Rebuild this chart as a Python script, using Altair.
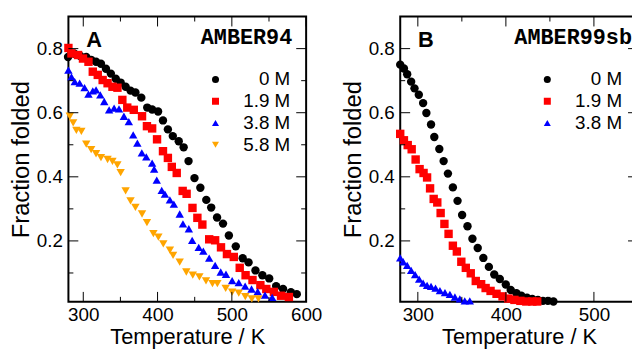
import altair as alt
import pandas as pd

FONT = "Liberation Sans"

# ---------------- Panel A : AMBER94 ----------------
a_series = ["0 M", "1.9 M", "3.8 M", "5.8 M"]
a_colors = ["#000000", "#ff0000", "#0000ff", "#ffa500"]
a_shapes = ["circle", "square", "triangle-up", "triangle-down"]

a0_T = [279.5, 288.1, 296.0, 304.0, 310.6, 317.2, 323.8, 330.5, 337.1, 343.7, 350.3, 357.0, 363.6, 370.2,
        378.1, 386.1, 392.7, 400.7, 407.3, 413.9, 420.5, 428.5, 435.1, 441.7, 449.7, 457.6, 465.6, 472.2,
        480.1, 488.1, 496.0, 505.3, 514.6, 522.5, 531.8, 541.1, 550.3, 559.6, 568.9, 579.5, 587.4]
a0_f = [0.774, 0.784, 0.777, 0.774, 0.765, 0.759, 0.753, 0.737, 0.722, 0.706, 0.694, 0.681, 0.669, 0.663,
        0.647, 0.616, 0.610, 0.604, 0.576, 0.548, 0.527, 0.511, 0.492, 0.449, 0.396, 0.366, 0.328, 0.304,
        0.273, 0.254, 0.217, 0.183, 0.146, 0.133, 0.108, 0.093, 0.083, 0.059, 0.050, 0.040, 0.034]

a1_T = [280.0, 284.1, 293.0, 299.6, 307.0, 312.8, 319.5, 326.1, 332.7, 339.3, 346.0, 352.6, 359.2, 368.0,
        379.1, 385.7, 392.7, 399.3, 407.3, 413.9, 419.2, 425.8, 433.8, 439.1, 447.0, 453.6, 460.3, 469.5,
        477.5, 485.4, 493.4, 502.6, 510.6, 518.5, 527.8, 538.4, 546.4, 556.6, 566.2, 576.8]
a1_f = [0.802, 0.785, 0.780, 0.769, 0.759, 0.728, 0.718, 0.702, 0.692, 0.681, 0.678, 0.640, 0.616, 0.609,
        0.589, 0.558, 0.551, 0.517, 0.480, 0.459, 0.431, 0.412, 0.356, 0.347, 0.303, 0.272, 0.251, 0.205,
        0.202, 0.180, 0.159, 0.150, 0.116, 0.093, 0.078, 0.062, 0.050, 0.041, 0.029, 0.025]

a2_T = [280.0, 284.1, 288.5, 295.1, 301.7, 307.0, 312.8, 317.2, 322.9, 328.2, 334.8, 341.5, 348.1, 354.7,
        361.3, 367.2, 372.8, 378.8, 384.8, 392.7, 395.4, 398.9, 405.6, 409.9, 416.6, 421.9, 429.8, 434.2,
        442.1, 446.6, 455.4, 461.6, 469.5, 477.5, 485.0, 492.1, 500.4, 509.3, 517.9, 526.5, 534.8, 544.6, 554.3]
a2_f = [0.733, 0.712, 0.697, 0.692, 0.678, 0.658, 0.668, 0.671, 0.656, 0.635, 0.609, 0.614, 0.612, 0.589,
        0.572, 0.531, 0.505, 0.475, 0.462, 0.443, 0.424, 0.390, 0.358, 0.346, 0.328, 0.315, 0.284, 0.253,
        0.238, 0.202, 0.180, 0.168, 0.146, 0.124, 0.103, 0.096, 0.076, 0.070, 0.059, 0.050, 0.042, 0.031, 0.024]

a3_T = [281.9, 286.4, 290.7, 297.4, 304.0, 310.6, 317.2, 323.8, 332.7, 339.3, 345.9, 350.3, 357.0, 363.6,
        370.2, 379.1, 385.7, 394.4, 401.1, 407.7, 416.6, 420.9, 429.8, 438.7, 447.4, 456.3, 465.2, 473.9,
        480.5, 491.7, 500.4, 509.3, 518.1, 526.9, 535.8]
a3_f = [0.589, 0.568, 0.545, 0.542, 0.502, 0.485, 0.472, 0.460, 0.454, 0.448, 0.437, 0.413, 0.356, 0.325,
        0.305, 0.284, 0.257, 0.223, 0.212, 0.191, 0.171, 0.155, 0.134, 0.103, 0.093, 0.088, 0.075, 0.067,
        0.067, 0.052, 0.040, 0.037, 0.026, 0.019, 0.019]

# ---------------- Panel B : AMBER99sb ----------------
b_series = ["0 M", "1.9 M", "3.8 M"]
b_colors = ["#000000", "#ff0000", "#0000ff"]
b_shapes = ["circle", "square", "triangle-up"]

b0_T = [280.0, 284.2, 287.9, 292.4, 296.2, 301.1, 306.0, 309.7, 315.0, 318.7, 324.4, 329.3, 334.2, 339.8,
        345.1, 350.3, 356.4, 362.0, 368.0, 374.4, 380.7, 386.8, 393.1, 399.9, 405.5, 412.0, 417.6, 424.0,
        430.0, 436.4, 442.1, 447.7, 454.0]
b0_f = [0.750, 0.738, 0.720, 0.697, 0.676, 0.656, 0.630, 0.599, 0.563, 0.524, 0.487, 0.449, 0.410, 0.367,
        0.325, 0.281, 0.246, 0.207, 0.178, 0.147, 0.119, 0.095, 0.081, 0.064, 0.047, 0.037, 0.029, 0.023,
        0.019, 0.016, 0.013, 0.013, 0.011]

b1_T = [280.0, 284.2, 288.5, 293.0, 297.5, 302.0, 306.5, 310.5, 313.9, 318.0, 322.1, 325.9, 330.2, 334.9,
        339.8, 344.3, 349.4, 354.5, 360.1, 365.8, 371.9, 377.0, 382.6, 389.4, 396.2, 402.9, 409.7, 416.5,
        423.2, 430.0, 435.6]
b1_f = [0.534, 0.514, 0.499, 0.486, 0.454, 0.424, 0.412, 0.398, 0.364, 0.331, 0.320, 0.287, 0.253, 0.222,
        0.185, 0.167, 0.135, 0.116, 0.099, 0.075, 0.065, 0.053, 0.044, 0.035, 0.027, 0.020, 0.016, 0.013,
        0.011, 0.011, 0.011]

b2_T = [280.0, 283.4, 287.9, 292.4, 296.9, 301.5, 306.0, 310.5, 315.0, 320.1, 325.1, 330.8, 336.4, 342.1,
        347.7, 353.3, 359.0]
b2_f = [0.147, 0.135, 0.124, 0.108, 0.095, 0.081, 0.068, 0.061, 0.058, 0.053, 0.045, 0.039, 0.033, 0.025,
        0.019, 0.013, 0.013]

# axis ticks
a_x_major = [300, 400, 500, 600]
a_x_minor = [350, 450, 550]
b_x_major = [300, 400, 500]
b_x_minor = [350, 450]
y_major = [0.2, 0.4, 0.6, 0.8]
y_minor = [0.1, 0.3, 0.5, 0.7]
y_domain = [0.01, 0.9]
a_x_domain = [280, 600]
b_x_domain = [280, 550]

W, H = 240, 288
MAJ, MIN = 10, 5


def build_df(series, Ts, fs):
    rows = []
    for s, T, f in zip(series, Ts, fs):
        for t, v in zip(T, f):
            rows.append({"T": t, "f": v, "series": s})
    return pd.DataFrame(rows)


def panel(df, series, colors, shapes, xdom, xmaj, xmin, letter, model, model_x):
    xs = alt.Scale(domain=xdom, nice=False, zero=False)
    ys = alt.Scale(domain=y_domain, nice=False, zero=False)
    xax = alt.Axis(values=xmaj, title="Temperature / K", labelFlush=False, format="d",
                   labelPadding=4, titlePadding=2, titleFontSize=22)
    yax = alt.Axis(values=y_major, title="Fraction folded", format=".1f",
                   labelPadding=6, titlePadding=3)
    leg = alt.Legend(title=None, orient="none", legendX=139, legendY=54, labelAlign="right",
                     labelOffset=66, labelFontSize=19, labelFont=FONT, symbolSize=50,
                     rowPadding=2, padding=0, symbolStrokeWidth=0)
    X = alt.X("T:Q", scale=xs, axis=xax)
    Y = alt.Y("f:Q", scale=ys, axis=yax)

    pts = alt.Chart(df).mark_point(filled=True, size=72, opacity=1).encode(
        x=X, y=Y,
        color=alt.Color("series:N", scale=alt.Scale(domain=series, range=colors), legend=leg),
        shape=alt.Shape("series:N", scale=alt.Scale(domain=series, range=shapes), legend=leg),
        order=alt.Order("order:Q"),
    ).transform_calculate(order="indexof(%s, datum.series)" % str(series))

    layers = []
    for vals, L in ((xmaj, MAJ), (xmin, MIN)):
        d = pd.DataFrame({"T": vals})
        layers.append(alt.Chart(d).mark_rule(color="black", strokeWidth=1).encode(
            x=X, y=alt.value(H), y2=alt.value(H - L)))
        layers.append(alt.Chart(d).mark_rule(color="black", strokeWidth=1).encode(
            x=X, y=alt.value(0), y2=alt.value(L)))
    for vals, L in ((y_major, MAJ), (y_minor, MIN)):
        d = pd.DataFrame({"f": vals})
        layers.append(alt.Chart(d).mark_rule(color="black", strokeWidth=1).encode(
            y=Y, x=alt.value(0), x2=alt.value(L)))
        layers.append(alt.Chart(d).mark_rule(color="black", strokeWidth=1).encode(
            y=Y, x=alt.value(W), x2=alt.value(W - L)))

    lab = alt.Chart(pd.DataFrame({"t": [letter]})).mark_text(
        font=FONT, fontSize=22, fontWeight="bold", align="left", baseline="alphabetic", color="black"
    ).encode(x=alt.value(18), y=alt.value(31), text="t:N")
    mod = alt.Chart(pd.DataFrame({"t": [model]})).mark_text(
        font="Courier New, Liberation Mono, monospace", fontSize=22, fontWeight="bold",
        align="right", baseline="alphabetic", color="black"
    ).encode(x=alt.value(model_x), y=alt.value(28), text="t:N")

    return alt.layer(pts, *layers, lab, mod).properties(width=W, height=H)


dfA = build_df(a_series, [a0_T, a1_T, a2_T, a3_T], [a0_f, a1_f, a2_f, a3_f])
dfB = build_df(b_series, [b0_T, b1_T, b2_T], [b0_f, b1_f, b2_f])

chartA = panel(dfA, a_series, a_colors, a_shapes, a_x_domain, a_x_major, a_x_minor, "A", "AMBER94", 226)
chartB = panel(dfB, b_series, b_colors, b_shapes, b_x_domain, b_x_major, b_x_minor, "B", "AMBER99sb", 234)

chart = alt.hconcat(chartA, chartB, spacing=95, bounds="flush").resolve_scale(
    color="independent", shape="independent", x="independent", y="independent"
).resolve_legend(color="independent", shape="independent").configure_view(
    stroke="black", strokeWidth=2
).configure_axis(
    labelFont=FONT, labelFontSize=19, labelColor="black",
    titleFont=FONT, titleFontSize=24, titleFontWeight="normal", titleColor="black",
    tickSize=0, domain=False, grid=False
).properties(padding={"left": 0, "top": 5, "right": -8, "bottom": 0})

chart.save("out.html", embed_options={"renderer": "svg", "actions": False})
